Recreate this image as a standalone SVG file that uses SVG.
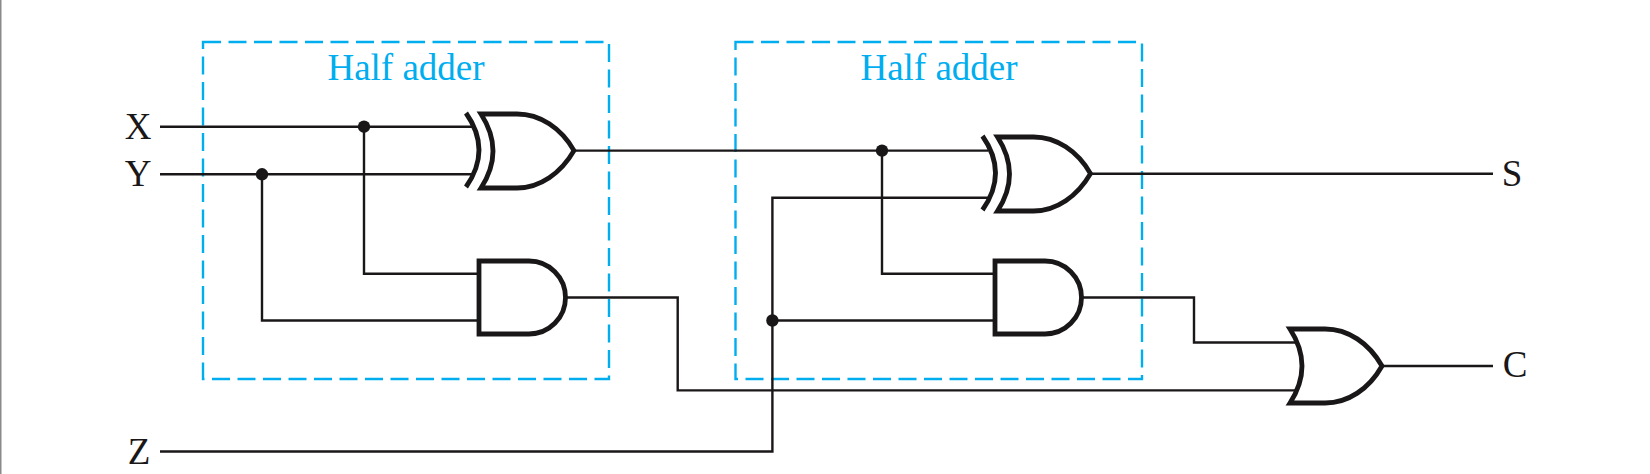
<svg xmlns="http://www.w3.org/2000/svg" width="1650" height="474" viewBox="0 0 1650 474">
<style>
.w{fill:none;stroke:#1a1718;stroke-width:2.4}
.g{fill:none;stroke:#1a1718;stroke-width:4.800;stroke-linejoin:miter}
.d{fill:#1a1718}
.b{fill:none;stroke:#00aeef;stroke-width:2.4;stroke-dasharray:18 7.5}
.t{font-family:"Liberation Serif","Times New Roman",serif;fill:#1a1718;font-size:37px;text-anchor:middle}
.h{font-family:"Liberation Serif","Times New Roman",serif;fill:#00aeef;font-size:37px;text-anchor:middle}
</style>
<defs>
<g id="xor"><path class="g" d="M466 113Q492 150 466 187"/><path class="g" d="M481 114H517C540 114 561 128 574 150.6C561 173 540 188 517 188H481Q505 151 481 114Z"/></g>
<path id="and" class="g" d="M479 261H529A36.500 36.500 0 0 1 529 334H479Z"/>
</defs>
<rect id="edge" x="0" y="0" width="1.500" height="474" fill="#8a8a8a"/>
<g id="half-adder-1"><rect class="b" x="203" y="42" width="406" height="337"/><text class="h" x="406" y="80">Half adder</text></g>
<g id="half-adder-2"><rect class="b" x="735.500" y="42" width="406.500" height="337"/><text class="h" x="939" y="80">Half adder</text></g>
<g id="connectors">
<path class="w" d="M160 126.700H472"/><path class="w" d="M160 174.300H472"/>
<path class="w" d="M364 126.700V273.700H479"/><path class="w" d="M262 174.300V320.500H479"/>
<path class="w" d="M575 150.600H988"/><path class="w" d="M882 150.600V273.700H995"/>
<path class="w" d="M160 451.500H772.400V197.800H988"/><path class="w" d="M772.400 320.500H995"/>
<path class="w" d="M1091.500 173.700H1493"/>
<path class="w" d="M565 297.500H677.700V390.400H1296"/>
<path class="w" d="M1081 297.500H1194V342.500H1296"/>
<path class="w" d="M1383 366H1493"/>
<circle class="d" cx="364" cy="126.700" r="6.200"/><circle class="d" cx="262" cy="174.300" r="6.200"/>
<circle class="d" cx="882" cy="150.600" r="6.200"/><circle class="d" cx="772.400" cy="320.500" r="6.200"/>
</g>
<g id="xor-1"><use href="#xor"/></g>
<g id="and-1"><use href="#and"/></g>
<g id="xor-2"><use href="#xor" transform="translate(516.500 23)"/></g>
<g id="and-2"><use href="#and" transform="translate(516 0)"/></g>
<g id="or-1"><path class="g" d="M1290 329H1325C1348 329 1369 343 1382 366C1369 389 1348 403 1325 403H1290Q1314 366 1290 329Z"/></g>
<g id="label-x"><text class="t" x="138" y="139">X</text></g>
<g id="label-y"><text class="t" x="138" y="186">Y</text></g>
<g id="label-z"><text class="t" x="139" y="464">Z</text></g>
<g id="label-s"><text class="t" x="1512" y="186">S</text></g>
<g id="label-c"><text class="t" x="1515" y="377">C</text></g>
</svg>
